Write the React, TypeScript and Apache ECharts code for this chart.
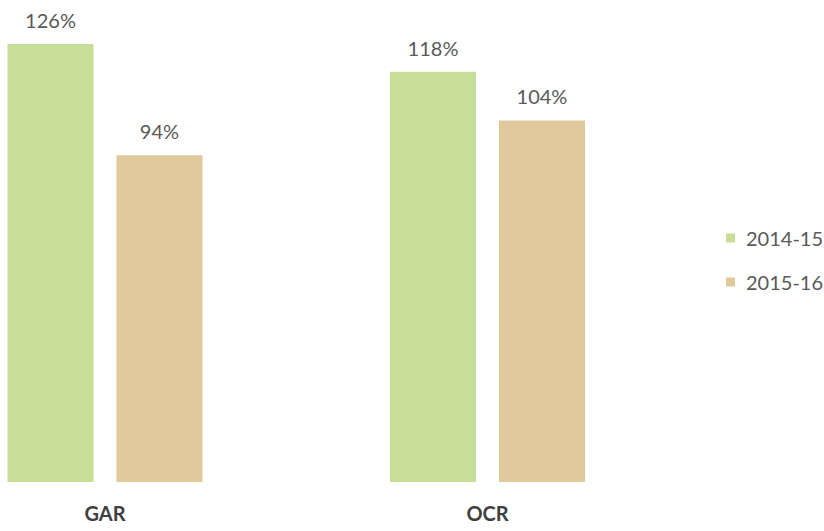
import React, { useEffect, useRef } from "react";
import * as echarts from "echarts";

const categories = ["GAR", "OCR"];
const seriesNames = ["2014-15", "2015-16"];
const values2014 = [126, 118];
const values2015 = [94, 104];

export default function App() {
  const ref = useRef<HTMLDivElement>(null);
  useEffect(() => {
    document.body.style.margin = "0";
    if (!ref.current) return;
    const chart = echarts.init(ref.current, undefined, { renderer: "svg" });
    const labelStyle = {
      show: true,
      position: "top" as const,
      distance: 14,
      color: "#595959",
      fontFamily: "Lato",
      fontSize: 20,
      lineHeight: 20,
      formatter: (p: any) => p.value + "%",
    };
    chart.setOption({
      animation: false,
      backgroundColor: "#ffffff",
      grid: {
        left: 105,
        right: 336.5,
        top: 30,
        bottom: 49,
        containLabel: false,
        outerBoundsMode: "none",
      },
      legend: {
        orient: "vertical",
        left: 721,
        top: 223,
        itemWidth: 9,
        itemHeight: 9,
        itemGap: 24,
        icon: "rect",
        textStyle: {
          color: "#595959",
          fontFamily: "Lato",
          fontSize: 20,
          lineHeight: 20,
          padding: [0, 0, 0, 6],
        },
        data: seriesNames,
      },
      xAxis: {
        type: "category",
        data: categories,
        boundaryGap: false,
        axisLine: { show: false },
        axisTick: { show: false },
        axisLabel: {
          margin: 21,
          color: "#404040",
          fontFamily: "Lato",
          fontWeight: "bold",
          fontSize: 20,
          lineHeight: 20,
        },
        splitLine: { show: false },
      },
      yAxis: {
        type: "value",
        min: 0,
        max: 130,
        show: false,
        splitLine: { show: false },
      },
      series: [
        {
          name: seriesNames[0],
          type: "bar",
          data: values2014,
          barWidth: 86,
          barGap: "26.7%",
          itemStyle: { color: "#C6DE96" },
          label: labelStyle,
        },
        {
          name: seriesNames[1],
          type: "bar",
          data: values2015,
          barWidth: 86,
          barGap: "26.7%",
          itemStyle: { color: "#E0C99B" },
          label: labelStyle,
        },
      ],
    });
    return () => chart.dispose();
  }, []);
  return <div ref={ref} style={{ width: 824, height: 531 }} />;
}
